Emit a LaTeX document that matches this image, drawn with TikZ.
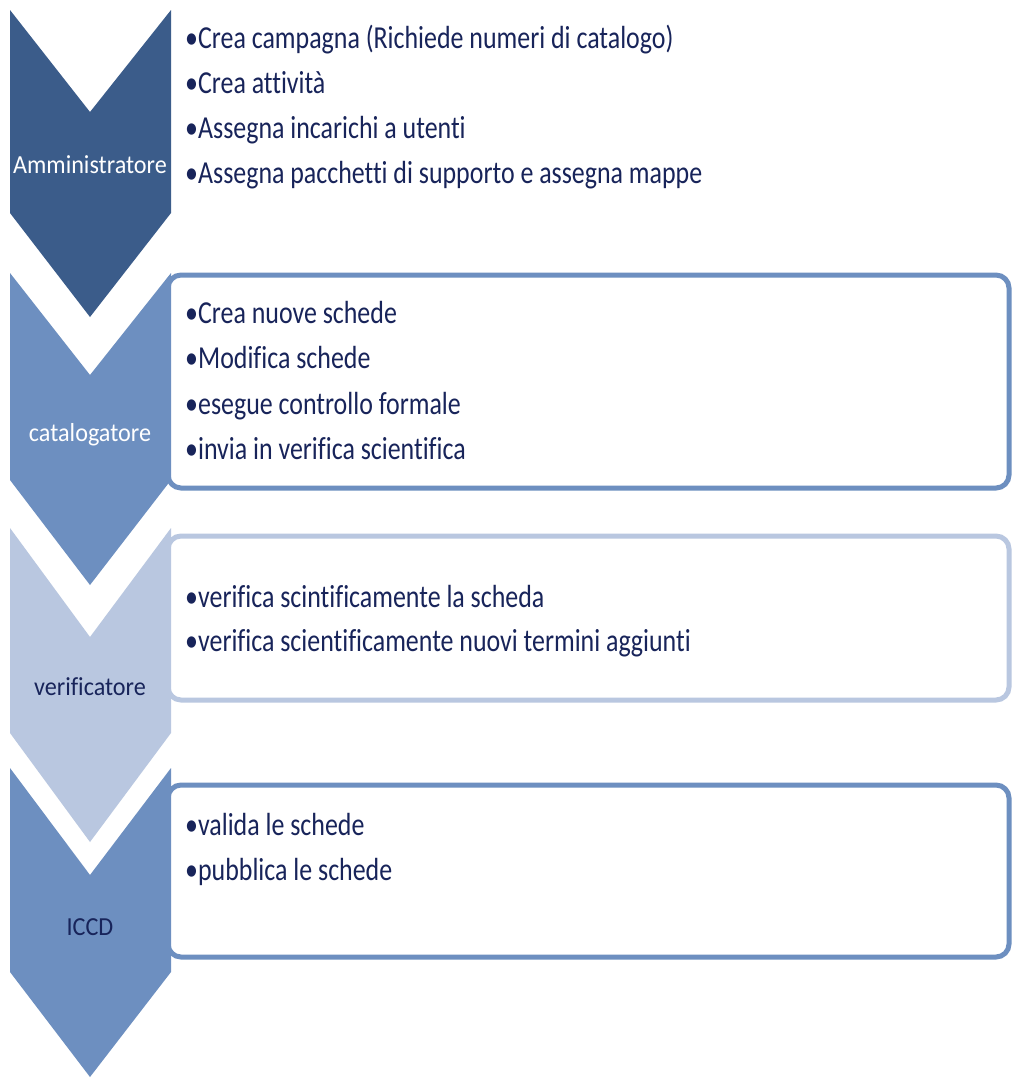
\documentclass[tikz,border=0pt]{standalone}
\usepackage{fontspec}
\setmainfont{Carlito}[FakeStretch=0.81,Ligatures=NoCommon]
\newfontfamily\labfont{Carlito}[FakeStretch=0.93,Ligatures=NoCommon]
\definecolor{cdark}{HTML}{3B5C8A}
\definecolor{cmid}{HTML}{6D8FC0}
\definecolor{clight}{HTML}{B9C7E0}
\definecolor{ctext}{HTML}{18245A}
\tikzset{
  boxline/.style={line width=5pt, rounded corners=13pt, fill=white},
  item/.style={anchor=base west, inner sep=0pt, text=ctext, font=\fontsize{32}{46}\selectfont},
  lab/.style={anchor=base, inner sep=0pt, font=\labfont\fontsize{26}{30}\selectfont},
}
\begin{document}
\begin{tikzpicture}[x=1pt,y=-1pt]
\useasboundingbox (0,0) rectangle (1013,1079);
\fill[white] (0,0) rectangle (1013,1079);
% boxes
\draw[boxline, draw=cmid] (600,275) -- (1009,275) -- (1009,488) -- (168,488) -- (168,275) -- cycle;
\draw[boxline, draw=clight] (600,536) -- (1009,536) -- (1009,700) -- (168,700) -- (168,536) -- cycle;
\draw[boxline, draw=cmid] (600,785) -- (1009,785) -- (1009,957) -- (168,957) -- (168,785) -- cycle;
% chevrons
\fill[cdark] (10,10) -- (90,112) -- (171,10) -- (171,213) -- (90,317) -- (10,213) -- cycle;
\fill[cmid] (10,273) -- (90,375) -- (171,273) -- (171,480) -- (90,585) -- (10,480) -- cycle;
\fill[clight] (10,528) -- (90,637) -- (171,528) -- (171,733) -- (90,842) -- (10,733) -- cycle;
\fill[cmid] (10,768) -- (90,875) -- (171,768) -- (171,972) -- (90,1077) -- (10,972) -- cycle;
% labels
\node[lab, text=white] (l1) at (90,173) {Amministratore};
\node[lab, text=white] (l2) at (90,441) {catalogatore};
\node[lab, text=ctext] (l3) at (90,695) {verificatore};
\node[lab, text=ctext] (l4) at (90,935) {ICCD};
% items
\node[item] (a1) at (185,48) {•Crea campagna (Richiede numeri di catalogo)};
\node[item] (a2) at (185,93) {•Crea attività};
\node[item] (a3) at (185,138) {•Assegna incarichi a utenti};
\node[item] (a4) at (185,183) {•Assegna pacchetti di supporto e assegna mappe};
\node[item] (b1) at (185,323) {•Crea nuove schede};
\node[item] (b2) at (185,368) {•Modifica schede};
\node[item] (b3) at (185,414) {•esegue controllo formale};
\node[item] (b4) at (185,459) {•invia in verifica scientifica};
\node[item] (c1) at (185,607) {•verifica scintificamente la scheda};
\node[item] (c2) at (185,651) {•verifica scientificamente nuovi termini aggiunti};
\node[item] (d1) at (185,835) {•valida le schede};
\node[item] (d2) at (185,880) {•pubblica le schede};
\end{tikzpicture}
\end{document}
